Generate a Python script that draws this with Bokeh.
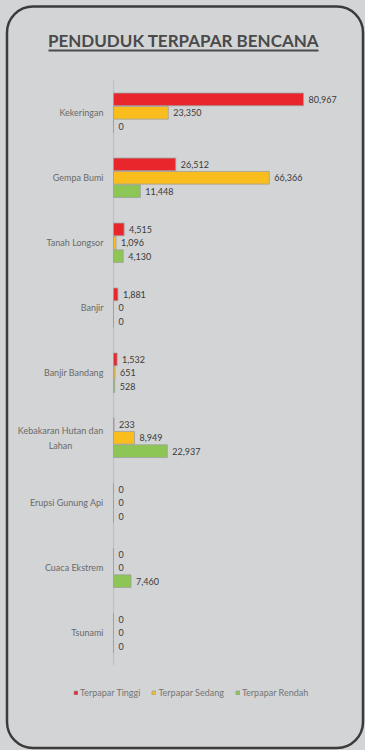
from bokeh.plotting import figure
from bokeh.models import ColumnDataSource, Range1d, BoxAnnotation
from bokeh.core.properties import value
from bokeh.embed import file_html
from bokeh.resources import INLINE

# ---------------- data ----------------
TITLE = "PENDUDUK TERPAPAR BENCANA"
categories = ["Kekeringan", "Gempa Bumi", "Tanah Longsor", "Banjir", "Banjir Bandang",
              "Kebakaran Hutan dan\nLahan", "Erupsi Gunung Api", "Cuaca Ekstrem", "Tsunami"]
series_names = ["Terpapar Tinggi", "Terpapar Sedang", "Terpapar Rendah"]
tinggi = [80967, 26512, 4515, 1881, 1532, 233, 0, 0, 0]
sedang = [23350, 66366, 1096, 0, 651, 8949, 0, 0, 0]
rendah = [0, 11448, 4130, 0, 528, 22937, 0, 7460, 0]

# ---------------- style ----------------
BG = "#d3d4d6"
COLORS = ["#e8262c", "#f9be1e", "#8dc655"]
FONT_NAME = "Lato"
FONT = value(FONT_NAME)

W, H = 365, 750
K = 426.0            # value units per pixel
AXIS_PX = 113        # canvas x of the zero line
PX_PER_CAT = 65.0
FIRST_CAT_PX = 112.3

x0 = -AXIS_PX * K
x1 = (W - AXIS_PX) * K
ytop = -FIRST_CAT_PX / PX_PER_CAT
ybot = ytop + H / PX_PER_CAT


def px_x(px):
    return x0 + px * K


def px_y(px):
    return ytop + px / PX_PER_CAT


p = figure(width=W, height=H, x_range=Range1d(x0, x1), y_range=Range1d(ybot, ytop),
           x_axis_type=None, y_axis_type=None, toolbar_location=None,
           output_backend="svg", min_border=0,
           background_fill_color=BG, border_fill_color=BG, outline_line_color=None)

# rounded frame
p.add_layout(BoxAnnotation(left=px_x(6.5), right=px_x(362.5),
                           top=px_y(6), bottom=px_y(747.5),
                           fill_alpha=0, line_color="#3b3b3b", line_alpha=1,
                           line_width=2.5, border_radius=26, level="underlay"))

# title + underline
p.text(x=[px_x(183)], y=[px_y(40)], text=[TITLE], text_align="center",
       text_baseline="middle", text_font=FONT, text_font_size="17px",
       text_font_style="bold", text_color="#4a4a4a")
p.segment(x0=[px_x(48)], x1=[px_x(318)], y0=[px_y(50)], y1=[px_y(50)],
          line_color="#4a4a4a", line_width=2)

idx = list(range(len(categories)))
# zero line
p.segment(x0=[0], x1=[0], y0=[-0.5], y1=[len(categories) - 0.5],
          line_color="#bfc0c2", line_width=1.2)

# category labels (two-line label is centred as a block)
multi = ["\n" in c for c in categories]
cat_src = ColumnDataSource(dict(
    x=[0] * len(categories), y=idx, t=categories,
    al=["center" if m else "right" for m in multi],
    xo=[-53 if m else -10 for m in multi]))
p.text(x="x", y="y", text="t", source=cat_src, x_offset="xo", text_align="al",
       text_baseline="middle", text_font=FONT,
       text_font_size="9px", text_color="#6a6a6a", text_line_height=1.35)

OFF = 0.206
BAR_H = 0.195
for k, (name, vals, col) in enumerate(zip(series_names, [tinggi, sedang, rendah], COLORS)):
    ys = [i + (k - 1) * OFF for i in idx]
    src = ColumnDataSource(dict(y=ys, v=vals, lab=[f"{v:,}" for v in vals]))
    p.hbar(y="y", right="v", left=0, height=BAR_H, source=src, fill_color=col,
           line_color="#a0a0a0", line_width=0.8, legend_label=name)
    p.text(x="v", y="y", text="lab", source=src, x_offset=5, text_align="left",
           text_baseline="middle", text_font=FONT, text_font_size="9px",
           text_color="#3a3a3a")

lg = p.legend[0]
lg.orientation = "horizontal"
lg.location = (73, 52)
lg.glyph_width = 5
lg.glyph_height = 5
lg.label_standoff = 2
lg.spacing = 11
lg.padding = 0
lg.margin = 0
lg.label_height = 12
lg.label_text_font = FONT_NAME
lg.label_text_font_size = "9px"
lg.label_text_color = "#747474"
lg.label_text_baseline = "middle"
lg.background_fill_alpha = 0
lg.border_line_alpha = 0

html = file_html(p, INLINE)
html = html.replace("</head>", "<style>html,body{background:%s;}</style></head>" % BG, 1)
open("out.html", "w").write(html)
